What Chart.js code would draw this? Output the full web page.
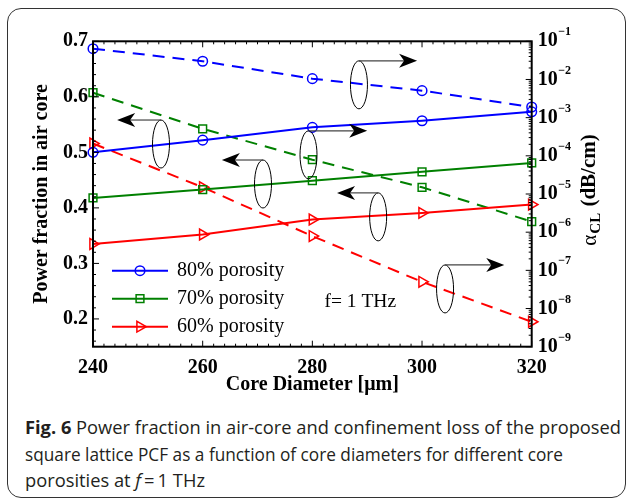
<!DOCTYPE html>
<html><head><meta charset="utf-8">
<script src="https://cdn.jsdelivr.net/npm/chart.js@4.4.1/dist/chart.umd.min.js"></script>
<style>
html,body{margin:0;padding:0;background:#fff;}
body{width:627px;height:499px;position:relative;overflow:hidden;}
#frame{position:absolute;left:7px;top:8px;width:619px;height:490px;border:1.5px solid #333;border-radius:14px;box-sizing:border-box;}
#wrap{position:absolute;left:0;top:0;width:627px;height:400px;}
#caption{position:absolute;left:25px;top:414px;font-family:"Open Sans";font-size:17.5px;line-height:26.5px;color:#231f20;white-space:nowrap;}
#caption div{transform-origin:0 50%;display:inline-block;}
</style></head><body>
<div id="frame"></div>
<div id="wrap"><canvas id="c" width="627" height="400"></canvas></div>
<div id="caption">
<div id="l1"><b>Fig. 6</b> Power fraction in air-core and confinement loss of the proposed</div><br>
<div id="l2">square lattice PCF as a function of core diameters for different core</div><br>
<div id="l3">porosities at <i>f</i>&#8201;=&#8201;1 THz</div>
</div>
<script>
// ---- data ----
const diameters = [240, 260, 280, 300, 320];
const seriesNames = ['80% porosity', '70% porosity', '60% porosity'];
const powerFraction80 = [0.500, 0.522, 0.545, 0.557, 0.573];
const powerFraction70 = [0.418, 0.433, 0.449, 0.465, 0.481];
const powerFraction60 = [0.335, 0.352, 0.379, 0.391, 0.406];
const loss80 = [6.4e-2, 3.0e-2, 1.05e-2, 5.1e-3, 1.9e-3];
const loss70 = [4.5e-3, 5.1e-4, 7.9e-5, 1.5e-5, 1.9e-6];
const loss60 = [2.1e-4, 1.5e-5, 7.9e-7, 5.0e-8, 4.5e-9];
const xTickValues = [240, 260, 280, 300, 320];
const leftTickValues = [0.2, 0.3, 0.4, 0.5, 0.6, 0.7];
const rightTickExponents = [-1, -2, -3, -4, -5, -6, -7, -8, -9];

// annotation ellipses (centre in x / left-axis units) with arrow tip x
const annotations = [
  {x: 252.4, y: 0.515, tipX: 244.4},
  {x: 271.0, y: 0.443, tipX: 263.5},
  {x: 279.3, y: 0.4955, tipX: 290.0},
  {x: 288.5, y: 0.6216, tipX: 299.1},
  {x: 292.0, y: 0.3838, tipX: 284.5},
  {x: 304.2, y: 0.254, tipX: 315.0}
];

const colors = ['#0000ff', '#008000', '#ff0000'];
const styles = ['circle', 'rect', 'triangle'];
const radii = [4.8, 5.5, 6.2];
const rot = [0, 0, 90];
const SERIF = 'Liberation Serif';

function pts(ys) { return diameters.map((d, i) => ({x: d, y: ys[i]})); }
function ds(label, ys, i, axis, dashed) {
  return {
    label, data: pts(ys), yAxisID: axis,
    borderColor: colors[i], borderWidth: 2, borderDash: dashed ? [12, 8] : [],
    pointStyle: styles[i], pointRadius: radii[i], pointRotation: rot[i],
    pointBorderColor: colors[i], pointBackgroundColor: 'rgba(0,0,0,0)', pointBorderWidth: 1.5,
    fill: false, tension: 0, clip: false
  };
}

const deco = {
  id: 'deco',
  afterDatasetsDraw(chart) {
    const {ctx, chartArea: a, scales: {x, y, y1}} = chart;
    ctx.save();
    // ellipses + arrows
    annotations.forEach(an => {
      const cx = x.getPixelForValue(an.x), cy = y.getPixelForValue(an.y);
      const tx = x.getPixelForValue(an.tipX);
      const rx = 8.5, ry = 24;
      ctx.beginPath(); ctx.ellipse(cx, cy, rx, ry, 0, 0, 2 * Math.PI);
      ctx.strokeStyle = '#000'; ctx.lineWidth = 1; ctx.stroke();
      const ay = cy - ry;
      const dir = Math.sign(tx - cx);
      ctx.beginPath(); ctx.moveTo(cx, ay); ctx.lineTo(tx - dir * 12, ay);
      ctx.strokeStyle = '#444'; ctx.lineWidth = 1.2; ctx.stroke();
      ctx.beginPath(); ctx.moveTo(tx, ay); ctx.lineTo(tx - dir * 18, ay - 7);
      ctx.lineTo(tx - dir * 13, ay); ctx.lineTo(tx - dir * 18, ay + 7); ctx.closePath();
      ctx.fillStyle = '#000'; ctx.fill();
    });
    // ticks
    ctx.strokeStyle = '#000'; ctx.lineWidth = 1;
    const line = (x1, y1_, x2, y2) => { ctx.beginPath(); ctx.moveTo(x1, y1_); ctx.lineTo(x2, y2); ctx.stroke(); };
    for (let k = 120; k <= 160; k++) {
      const v = k * 2, px = x.getPixelForValue(v), L = (v % 20 === 0) ? 6 : 3;
      line(px, a.bottom, px, a.bottom - L); line(px, a.top, px, a.top + L);
    }
    for (let k = 8; k <= 35; k++) {
      const v = k * 0.02, py = y.getPixelForValue(v), L = (k % 5 === 0) ? 6 : 3;
      line(a.left, py, a.left + L, py);
    }
    for (let e = -9; e <= -1; e++) {
      for (let m = 1; m <= 9; m++) {
        if (e === -1 && m > 1) break;
        const py = y1.getPixelForValue(m * Math.pow(10, e)), L = m === 1 ? 6 : 3;
        line(a.right, py, a.right - L, py);
      }
    }
    ctx.lineWidth = 2; ctx.strokeRect(a.left, a.top, a.right - a.left, a.bottom - a.top);

    // right tick labels with superscript exponents
    ctx.fillStyle = '#000'; ctx.textBaseline = 'middle'; ctx.textAlign = 'left';
    rightTickExponents.forEach(e => {
      const py = y1.getPixelForValue(Math.pow(10, e));
      const lx = a.right + 6;
      ctx.font = 'bold 20px "' + SERIF + '"';
      ctx.fillText('10', lx, py);
      const w = ctx.measureText('10').width;
      ctx.font = 'bold 12px "' + SERIF + '"';
      ctx.fillText('\u2212' + Math.abs(e), lx + w + 0.5, py - 9);
    });
    // right axis title
    ctx.save();
    ctx.translate(590, 190);
    ctx.rotate(-Math.PI / 2);
    const f1 = '21px "' + SERIF + '"', f2 = 'bold 15px "' + SERIF + '"', f3 = 'bold 21px "' + SERIF + '"';
    ctx.font = f1; const wA = ctx.measureText('\u03b1').width;
    ctx.font = f2; const wB = ctx.measureText('CL').width + 2;
    ctx.font = f3; const wC = ctx.measureText(' (dB/cm)').width;
    let sx = -(wA + wB + wC) / 2;
    ctx.textBaseline = 'middle';
    ctx.font = f1; ctx.fillText('\u03b1', sx, 0); sx += wA + 1;
    ctx.font = f2; ctx.fillText('CL', sx, 6); sx += wB - 1;
    ctx.font = f3; ctx.fillText(' (dB/cm)', sx, 0);
    ctx.restore();

    // legend
    ctx.font = '20px "' + SERIF + '"';
    seriesNames.forEach((name, i) => {
      const ly = a.bottom - 76 + i * 28, lx0 = a.left + 19, lx1 = a.left + 75, mx = (lx0 + lx1) / 2;
      ctx.strokeStyle = colors[i]; ctx.lineWidth = 2;
      line(lx0, ly, lx1, ly);
      ctx.lineWidth = 1.5; ctx.beginPath();
      if (styles[i] === 'circle') ctx.arc(mx, ly, radii[i], 0, 2 * Math.PI);
      else if (styles[i] === 'rect') { const s = radii[i] * Math.SQRT1_2; ctx.rect(mx - s, ly - s, 2 * s, 2 * s); }
      else { const r = radii[i]; ctx.moveTo(mx + r, ly); ctx.lineTo(mx - r / 2, ly - r * 0.866); ctx.lineTo(mx - r / 2, ly + r * 0.866); ctx.closePath(); }
      ctx.stroke();
      ctx.fillStyle = '#000'; ctx.textBaseline = 'middle';
      ctx.fillText(name, a.left + 84, ly);
    });
    ctx.font = '19.5px "' + SERIF + '"';
    ctx.fillText('f= 1 THz', x.getPixelForValue(282.2), y.getPixelForValue(0.2303));
    ctx.restore();
  }
};

new Chart(document.getElementById('c'), {
  type: 'line',
  data: {
    datasets: [
      ds(seriesNames[0], powerFraction80, 0, 'y', false),
      ds(seriesNames[1], powerFraction70, 1, 'y', false),
      ds(seriesNames[2], powerFraction60, 2, 'y', false),
      ds(seriesNames[0] + ' loss', loss80, 0, 'y1', true),
      ds(seriesNames[1] + ' loss', loss70, 1, 'y1', true),
      ds(seriesNames[2] + ' loss', loss60, 2, 'y1', true)
    ]
  },
  options: {
    responsive: false, animation: false, devicePixelRatio: 1,
    layout: {padding: {top: 41.3, left: 0, right: 0, bottom: 0}},
    plugins: {legend: {display: false}, tooltip: {enabled: false}},
    scales: {
      x: {
        type: 'linear', position: 'bottom', min: 240, max: 320,
        afterBuildTicks: s => { s.ticks = xTickValues.map(v => ({value: v})); },
        afterFit: s => { s.height = 400 - 346.7; },
        grid: {display: false, drawTicks: false}, border: {display: false},
        ticks: {font: {family: SERIF, size: 20, weight: 'bold'}, color: '#000', padding: 9, maxRotation: 0, autoSkip: false},
        title: {display: true, text: 'Core Diameter [\u03bcm]', color: '#000', font: {family: SERIF, size: 20, weight: 'bold'}, padding: {top: 0, bottom: 3}}
      },
      y: {
        type: 'linear', position: 'left', min: 0.15, max: 0.7,
        afterBuildTicks: s => { s.ticks = leftTickValues.map(v => ({value: v})); },
        afterFit: s => { s.width = 93; },
        grid: {display: false, drawTicks: false}, border: {display: false},
        ticks: {font: {family: SERIF, size: 20, weight: 'bold'}, color: '#000', padding: 5, callback: v => v.toFixed(1)},
        title: {display: true, text: 'Power fraction in air core', color: '#000', font: {family: SERIF, size: 20, weight: 'bold'}, padding: {top: 30, bottom: 0}}
      },
      y1: {
        type: 'logarithmic', position: 'right', min: 1e-9, max: 1e-1,
        afterFit: s => { s.width = 627 - 531.7; },
        grid: {display: false, drawTicks: false}, border: {display: false},
        ticks: {display: false}
      }
    }
  },
  plugins: [deco]
});

// fit caption lines to the widths seen in the reference
const captionWidths = {l1: 596, l2: 538, l3: 180};
Object.keys(captionWidths).forEach(id => {
  const el = document.getElementById(id);
  const w = el.getBoundingClientRect().width;
  if (w > 0) el.style.transform = 'scaleX(' + (captionWidths[id] / w) + ')';
});
</script>
</body></html>
